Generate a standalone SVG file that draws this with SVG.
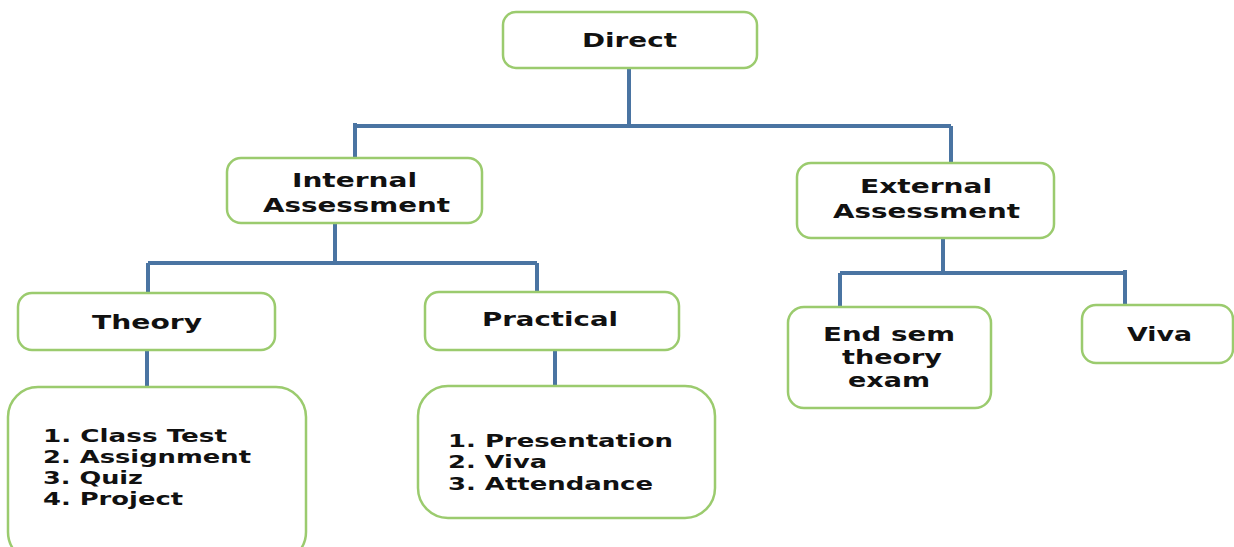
<svg xmlns="http://www.w3.org/2000/svg" width="1234" height="547" viewBox="0 0 1234 547">
<style>
.box{fill:#fff;stroke:#9bcb6e;stroke-width:2.5}
.ln{fill:none;stroke:#4a74a2;stroke-width:4}
text{font-family:"DejaVu Sans","Verdana",sans-serif;font-weight:bold;font-size:20px;fill:#111}
.c{text-anchor:middle}
.li{font-size:18px}
.es{font-size:19px}
</style>
<rect width="1234" height="547" fill="#fff"/>
<g id="connectors">
<path class="ln" d="M629 68V126M355 126H951M355 123V158M951 126V163"/>
<path class="ln" d="M335 223V263M148 263H537M148 263V293M537 263V292"/>
<path class="ln" d="M147 350V387M555 350V386"/>
<path class="ln" d="M943 238V273M840 273H1125M840 273V307M1125 270V305"/>
</g>
<g id="direct"><rect class="box" x="503" y="12" width="254" height="56" rx="13"/>
<text class="c" x="629.5" y="47" textLength="95" lengthAdjust="spacingAndGlyphs">Direct</text></g>
<g id="internal"><rect class="box" x="227" y="158" width="255" height="65" rx="14"/>
<text class="c" x="354.5" y="187" textLength="125" lengthAdjust="spacingAndGlyphs">Internal</text>
<text class="c" x="356.5" y="212" textLength="187" lengthAdjust="spacingAndGlyphs">Assessment</text></g>
<g id="external"><rect class="box" x="797" y="163" width="257" height="75" rx="14"/>
<text class="c" x="926" y="193" textLength="132" lengthAdjust="spacingAndGlyphs">External</text>
<text class="c" x="926.5" y="218" textLength="187" lengthAdjust="spacingAndGlyphs">Assessment</text></g>
<g id="theory"><rect class="box" x="18" y="293" width="257" height="57" rx="14"/>
<text class="c" x="147" y="329" textLength="110" lengthAdjust="spacingAndGlyphs">Theory</text></g>
<g id="practical"><rect class="box" x="425" y="292" width="254" height="58" rx="14"/>
<text class="c" x="550" y="326" textLength="136" lengthAdjust="spacingAndGlyphs">Practical</text></g>
<g id="theory-list"><rect class="box" x="8" y="387" width="298" height="175" rx="30"/>
<text class="li" x="43" y="442" textLength="184" lengthAdjust="spacingAndGlyphs">1. Class Test</text>
<text class="li" x="43" y="463" textLength="208" lengthAdjust="spacingAndGlyphs">2. Assignment</text>
<text class="li" x="43" y="484" textLength="100" lengthAdjust="spacingAndGlyphs">3. Quiz</text>
<text class="li" x="43" y="505" textLength="140" lengthAdjust="spacingAndGlyphs">4. Project</text></g>
<g id="practical-list"><rect class="box" x="418" y="386" width="297" height="132" rx="30"/>
<text class="li" x="448" y="447" textLength="225" lengthAdjust="spacingAndGlyphs">1.  Presentation</text>
<text class="li" x="448" y="468" textLength="99" lengthAdjust="spacingAndGlyphs">2.  Viva</text>
<text class="li" x="448" y="490" textLength="205" lengthAdjust="spacingAndGlyphs">3.  Attendance</text></g>
<g id="endsem"><rect class="box" x="788" y="307" width="203" height="101" rx="16"/>
<text class="c es" x="889" y="341" textLength="132" lengthAdjust="spacingAndGlyphs">End sem</text>
<text class="c es" x="892" y="364" textLength="100" lengthAdjust="spacingAndGlyphs">theory</text>
<text class="c es" x="889" y="387" textLength="82" lengthAdjust="spacingAndGlyphs">exam</text></g>
<g id="viva"><rect class="box" x="1082" y="305" width="151" height="58" rx="14"/>
<text class="c" x="1159.5" y="341" textLength="65" lengthAdjust="spacingAndGlyphs">Viva</text></g>
</svg>
